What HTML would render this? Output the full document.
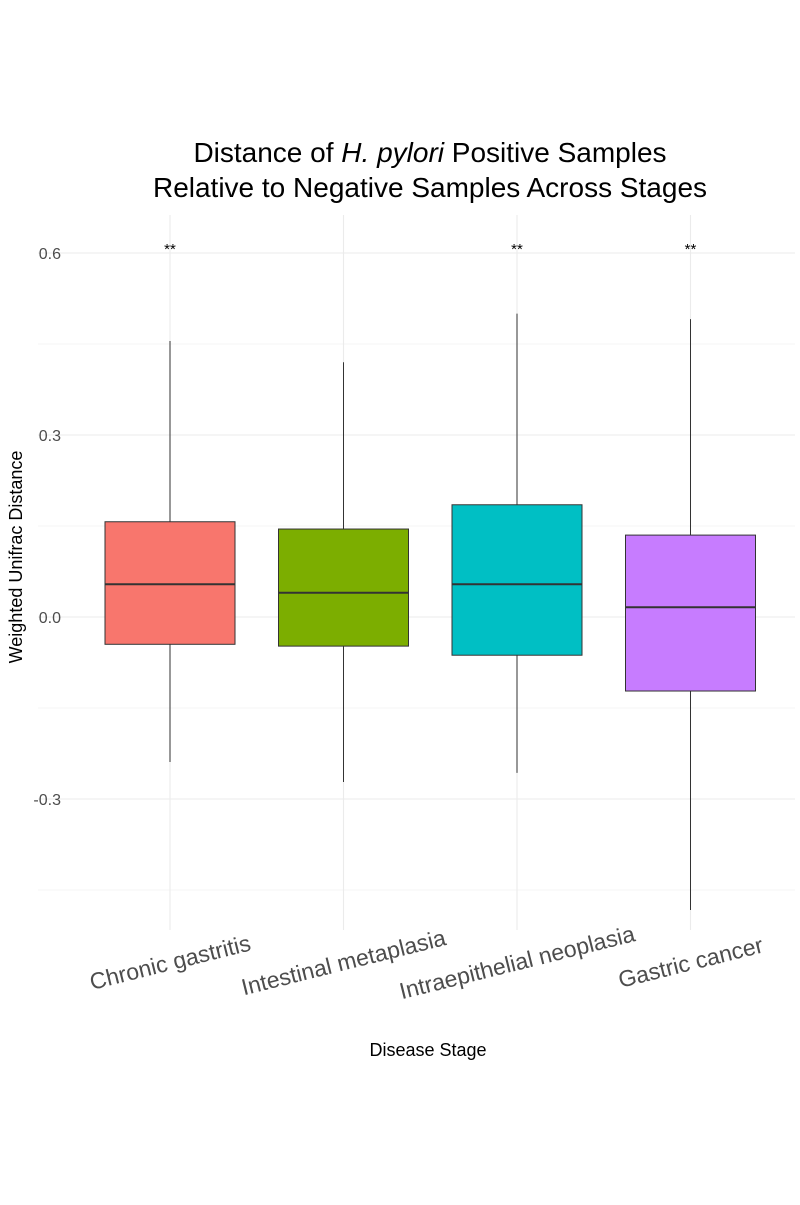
<!DOCTYPE html>
<html><head><meta charset="utf-8"><style>
body{margin:0;background:#fff;width:800px;height:1200px;overflow:hidden}
svg{font-family:"Liberation Sans",sans-serif}
</style></head><body>
<svg id="chart" width="800" height="1200">
<text x="430" y="162" text-anchor="middle" font-size="28" fill="#000">Distance of <tspan font-style="italic">H. pylori</tspan> Positive Samples</text>
<text x="430" y="197" text-anchor="middle" font-size="28" fill="#000">Relative to Negative Samples Across Stages</text>
<g id="grid"></g><g id="marks"></g><g id="axes"></g>
<text x="428" y="1056" text-anchor="middle" font-size="18" fill="#000">Disease Stage</text>
<text transform="translate(22,557) rotate(-90)" text-anchor="middle" font-size="18" fill="#000">Weighted Unifrac Distance</text>
</svg>
<script>
const categories=["Chronic gastritis","Intestinal metaplasia","Intraepithelial neoplasia","Gastric cancer"];
const whiskerHigh=[0.455,0.42,0.50,0.491];
const q3=[0.157,0.145,0.185,0.135];
const medians=[0.054,0.04,0.054,0.016];
const q1=[-0.045,-0.048,-0.063,-0.122];
const whiskerLow=[-0.239,-0.272,-0.257,-0.483];
const signif=["**","","**","**"];
const yTicks=[-0.3,0,0.3,0.6];
const yTickLabels=["-0.3","0.0","0.3","0.6"];
const yMinor=[-0.45,-0.15,0.15,0.45];
const colors=["#F8766D","#7CAE00","#00BFC4","#C77CFF"];
const NS="http://www.w3.org/2000/svg";
const y=v=>617-v*606.67;
const x=i=>170+i*173.5;
const bw=130, L=38, R=795, T=215, B=930;
function mk(p,t,a){const e=document.createElementNS(NS,t);for(const k in a)e.setAttribute(k,a[k]);p.appendChild(e);return e;}
const g=document.getElementById('grid'),m=document.getElementById('marks'),ax=document.getElementById('axes');
yMinor.forEach(v=>{const l=mk(g,'line',{x1:L,x2:R,y1:y(v),y2:y(v),stroke:'#ebebeb','stroke-width':0.6});

});
yTicks.forEach((v,i)=>{const l=mk(g,'line',{x1:L,x2:R,y1:y(v),y2:y(v),stroke:'#ebebeb','stroke-width':1.1});


const t=mk(ax,'text',{x:61,y:y(v)+6,'text-anchor':'end','font-size':16,fill:'#4d4d4d'});t.textContent=yTickLabels[i];

});
categories.forEach((c,i)=>{
const l=mk(g,'line',{x1:x(i),x2:x(i),y1:T,y2:B,stroke:'#ebebeb','stroke-width':1.1});


const w=mk(m,'line',{x1:x(i),x2:x(i),y1:y(whiskerHigh[i]),y2:y(whiskerLow[i]),stroke:'#333','stroke-width':1});


const r=mk(m,'rect',{x:x(i)-bw/2,y:y(q3[i]),width:bw,height:y(q1[i])-y(q3[i]),fill:colors[i],stroke:'#333','stroke-width':1});


const md=mk(m,'line',{x1:x(i)-bw/2,x2:x(i)+bw/2,y1:y(medians[i]),y2:y(medians[i]),stroke:'#333','stroke-width':2});


if(signif[i]){const s=mk(m,'text',{x:x(i),y:y(0.6)+1,'text-anchor':'middle','font-size':15,fill:'#000'});s.textContent=signif[i];

}
const t=mk(ax,'text',{transform:`translate(${x(i)+2},${970}) rotate(-14)`,'text-anchor':'middle','font-size':23,fill:'#4d4d4d'});t.textContent=c;


});
</script>
</body></html>
